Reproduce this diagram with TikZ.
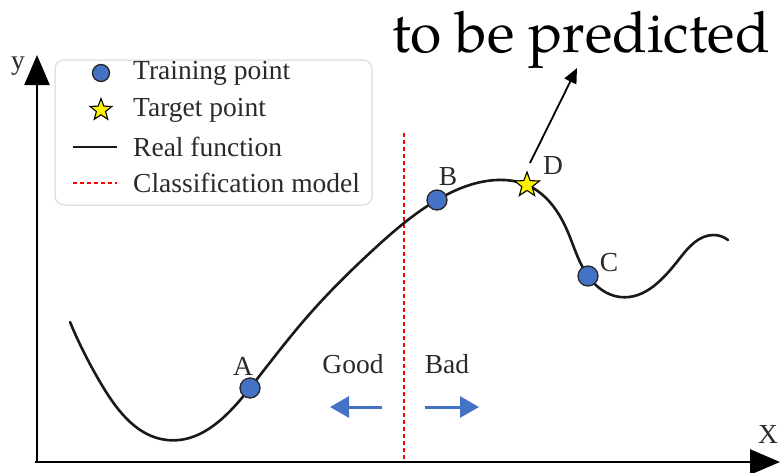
\documentclass[tikz,border=0pt]{standalone}
\usepackage{fontspec}
\setmainfont{Liberation Serif}
\newfontfamily\palfont{texgyrepagella-regular.otf}
\usetikzlibrary{arrows.meta,shapes.geometric,hobby}
\definecolor{ptblue}{HTML}{4472C4}
\definecolor{txtgray}{HTML}{2A2A2A}
\definecolor{boxgray}{HTML}{E2E2E2}
\tikzset{
  lbl/.style={font=\fontsize{27.5}{30}\selectfont, text=txtgray, inner sep=0pt},
  trainpt/.style={circle, fill=ptblue, draw=black!85, line width=1.3pt, minimum size=20pt, inner sep=0pt},
  targetpt/.style={star, star points=5, star point ratio=2.4, fill=yellow, draw=black, line width=1.1pt, minimum size=26pt, inner sep=0pt},
  axis/.style={line width=2.6pt, -{Triangle[width=25pt,length=30pt]}},
  realfn/.style={line width=2.6pt, black!90},
  clsmodel/.style={red, line width=2.2pt, dash pattern=on 4pt off 3pt},
  dirarrow/.style={ptblue, line width=3pt, -{Triangle[width=21pt,length=19pt]}},
}
\begin{document}
\begin{tikzpicture}[x=1pt, y=-1pt]
\useasboundingbox (0,0) rectangle (780,472);

% legend box
\node[draw=boxgray, line width=1.5pt, rounded corners=9pt, minimum width=317pt, minimum height=145pt, inner sep=0pt] (legend) at (213.5,132.5) {};
\node[trainpt, minimum size=17pt] (lgc) at (101,73) {};
\node[lbl, anchor=west] (lgct) at (133,73) {Training point};
\node[targetpt, minimum size=23pt] (lgs) at (101,110) {};
\node[lbl, anchor=west] (lgst) at (133,110) {Target point};
\coordinate (lgl1) at (73,147);
\coordinate (lgl2) at (117,147);
\draw[realfn] (lgl1) -- (lgl2);
\node[lbl, anchor=west] (lglt) at (133,147) {Real function};
\coordinate (lgd1) at (73,183);
\coordinate (lgd2) at (117,183);
\draw[clsmodel] (lgd1) -- (lgd2);
\node[lbl, anchor=west] (lgdt) at (133,183) {Classification model};

% axes
\coordinate (O) at (37,462);
\coordinate (Ytop) at (37,55);
\coordinate (Xend) at (780,462);
\draw[axis] (O) -- (Ytop);
\draw[axis] ([xshift=-2pt]O) -- (Xend);
\node[lbl] (ylab) at (18,66) {y};
\node[lbl] (xlab) at (768,434) {X};

% classification model line
\coordinate (ctop) at (404,133);
\coordinate (cbot) at (404,462);
\draw[clsmodel] (ctop) -- (cbot);

% real function
\draw[realfn, line cap=round, use Hobby shortcut]
 (70,322) .. (103,387) .. (167,440) .. (250,388) .. (307,317) .. (373,250)
 .. (437,200) .. (497,180) .. (527,185) .. (567,230) .. (588,276)
 .. (620,297) .. (680,258) .. (713,235) .. (728,240);

% points
\node[trainpt] (A) at (250,388) {};
\node[trainpt] (B) at (437,200) {};
\node[trainpt] (C) at (588,276) {};
\node[targetpt] (D) at (527,185) {};
\node[lbl] (Alab) at (243,366) {A};
\node[lbl] (Blab) at (448,177) {B};
\node[lbl] (Clab) at (609,263) {C};
\node[lbl] (Dlab) at (553,166) {D};

% good / bad
\node[lbl] (good) at (353,364) {Good};
\node[lbl] (bad) at (447,364) {Bad};
\coordinate (gs) at (382,407);
\coordinate (ge) at (330,407);
\coordinate (bs) at (425,407);
\coordinate (be) at (479,407);
\draw[dirarrow] (gs) -- (ge);
\draw[dirarrow] (bs) -- (be);

% to be predicted
\node[anchor=base, inner sep=0pt, font=\palfont\fontsize{57}{60}\selectfont] (pred) at (581,52) {to be predicted};
\coordinate (dtail) at (530,163);
\coordinate (ptip) at (577,68);
\draw[line width=1.8pt, -{Triangle[width=13pt,length=15pt]}] (dtail) -- (ptip);
\end{tikzpicture}
\end{document}
